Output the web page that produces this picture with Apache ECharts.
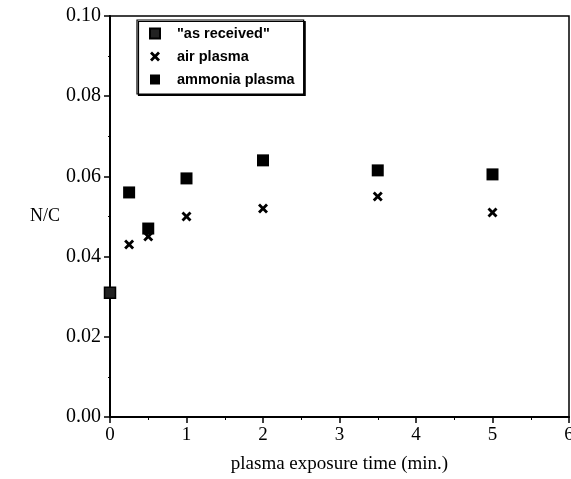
<!DOCTYPE html>
<html>
<head>
<meta charset="utf-8">
<script src="https://cdn.jsdelivr.net/npm/echarts@6/dist/echarts.min.js"></script>
<style>
  html, body { margin: 0; padding: 0; background: #fff; }
  #chart { width: 571px; height: 479px; }
</style>
</head>
<body>
<div id="chart"></div>
<script>
// N/C ratio versus plasma exposure time
const seriesNames = ['"as received"', 'air plasma', 'ammonia plasma'];
const asReceivedTime = [0];
const asReceivedNC = [0.031];
const airTime = [0.25, 0.5, 1, 2, 3.5, 5];
const airNC = [0.043, 0.045, 0.050, 0.052, 0.055, 0.051];
const ammoniaTime = [0.25, 0.5, 1, 2, 3.5, 5];
const ammoniaNC = [0.056, 0.047, 0.0595, 0.064, 0.0615, 0.0605];
const xTicks = [0, 1, 2, 3, 4, 5, 6];
const yTicks = [0, 0.02, 0.04, 0.06, 0.08, 0.10];

const pairs = (xs, ys) => xs.map((x, i) => [x, ys[i]]);

// filled "x" marker outline
const crossPath = 'path://M0,2 L2,0 L5,3 L8,0 L10,2 L7,5 L10,8 L8,10 L5,7 L2,10 L0,8 L3,5 Z';

const serif = 'Liberation Serif';
const sans = 'Liberation Sans';

const chart = echarts.init(document.getElementById('chart'));
chart.setOption({
  animation: false,
  backgroundColor: '#fff',
  grid: {
    left: 110, right: 2, top: 16, bottom: 62,
    outerBoundsMode: 'none',
    show: true, borderColor: '#000', borderWidth: 1.5, backgroundColor: 'transparent'
  },
  legend: {
    orient: 'vertical',
    left: 137, top: 20,
    padding: [6, 9, 7, 12],
    itemGap: 8,
    itemWidth: 10, itemHeight: 10,
    borderColor: '#000', borderWidth: 1.2,
    shadowColor: '#000', shadowOffsetX: 1.5, shadowOffsetY: 1.5, shadowBlur: 0,
    backgroundColor: '#fff',
    textStyle: { fontFamily: sans, fontSize: 14.5, fontWeight: 'bold', color: '#000', padding: [0, 0, 0, 12] },
    data: seriesNames
  },
  xAxis: {
    type: 'value',
    min: xTicks[0], max: xTicks[xTicks.length - 1], interval: 1,
    name: 'plasma exposure time (min.)',
    nameLocation: 'middle', nameGap: 38,
    nameTextStyle: { fontFamily: serif, fontSize: 19, color: '#000' },
    axisLine: { show: true, onZero: false, lineStyle: { color: '#000', width: 2 } },
    axisTick: { show: true, inside: false, length: 6, lineStyle: { color: '#000', width: 1.5 } },
    minorTick: { show: true, splitNumber: 2, length: 3, lineStyle: { color: '#000', width: 1 } },
    axisLabel: { fontFamily: serif, fontSize: 19, color: '#000', margin: 9, showMaxLabel: true },
    splitLine: { show: false }
  },
  yAxis: {
    type: 'value',
    min: yTicks[0], max: yTicks[yTicks.length - 1], interval: 0.02,
    name: 'N/C',
    nameLocation: 'middle', nameRotate: 0, nameGap: 50,
    nameTextStyle: { fontFamily: serif, fontSize: 18, color: '#000' },
    axisLine: { show: true, onZero: false, lineStyle: { color: '#000', width: 2 } },
    axisTick: { show: true, inside: false, length: 6, lineStyle: { color: '#000', width: 1.5 } },
    minorTick: { show: true, splitNumber: 2, length: 2, lineStyle: { color: '#000', width: 1 } },
    axisLabel: { fontFamily: serif, fontSize: 20, color: '#000', margin: 9, formatter: v => v.toFixed(2) },
    splitLine: { show: false }
  },
  series: [
    {
      name: seriesNames[0], type: 'scatter',
      data: pairs(asReceivedTime, asReceivedNC),
      symbol: 'rect', symbolSize: 11,
      itemStyle: { color: '#222', borderColor: '#000', borderWidth: 1.5, opacity: 1 },
      z: 3
    },
    {
      name: seriesNames[1], type: 'scatter',
      data: pairs(airTime, airNC),
      symbol: crossPath, symbolSize: 10,
      itemStyle: { color: '#000', opacity: 1 },
      z: 2
    },
    {
      name: seriesNames[2], type: 'scatter',
      data: pairs(ammoniaTime, ammoniaNC),
      symbol: 'rect', symbolSize: 12,
      itemStyle: { color: '#000', opacity: 1 },
      z: 2
    }
  ]
});
</script>
</body>
</html>
